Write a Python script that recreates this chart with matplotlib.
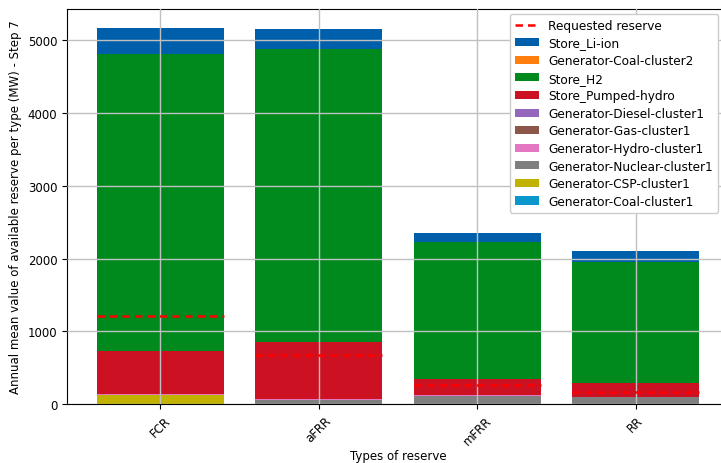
import numpy as np
import matplotlib
matplotlib.use('Agg')
from matplotlib import pyplot as plt
from matplotlib.lines import Line2D

# ----- DATA (MW) ----- #
reserves = ['FCR', 'aFRR', 'mFRR', 'RR']
requested = [1205, 677, 262, 165]

# stacked from bottom to top
techs = ['Generator-Coal-cluster1', 'Generator-CSP-cluster1', 'Generator-Nuclear-cluster1',
         'Generator-Hydro-cluster1', 'Generator-Gas-cluster1', 'Generator-Diesel-cluster1',
         'Store_Pumped-hydro', 'Store_H2', 'Generator-Coal-cluster2', 'Store_Li-ion']
coal1 = [0, 0, 0, 0]
csp = [128, 0, 0, 0]
nuclear = [0, 52, 112, 96]
hydro = [6, 22, 6, 0]
gas = [0, 0, 0, 0]
diesel = [0, 0, 0, 0]
pumped_hydro = [598, 782, 225, 197]
h2 = [4085, 4030, 1886, 1662]
coal2 = [0, 0, 0, 0]
li_ion = [357, 269, 129, 146]

colors = ['#0a97cc', '#c2b200', '#7f7f7f', '#e377c2', '#8c564b', '#9467bd',
          '#cc1222', '#008a1e', '#ff7f0e', '#005fab']

stack = [coal1, csp, nuclear, hydro, gas, diesel, pumped_hydro, h2, coal2, li_ion]

# ----- PLOT ----- #
fig = plt.figure(figsize=(7.21, 4.64), dpi=100)
ax = fig.add_axes([67/721, 59/464, 662/721, 395/464])

x = np.arange(len(reserves))
width = 0.8
bottom = np.zeros(len(reserves))
handles = []
for name, vals, col in zip(techs, stack, colors):
    b = ax.bar(x, vals, width, bottom=bottom, color=col, label=name, linewidth=0)
    handles.append(b)
    bottom += np.array(vals)

for i, r in enumerate(requested):
    ax.hlines(r, i - width/2, i + width/2, colors='#ff0000', linestyles=(0, (3, 2)),
              linewidth=1.8, zorder=3)

req_handle = Line2D([], [], color='#ff0000', linestyle=(0, (3, 2)), linewidth=1.8,
                    label='Requested reserve')

ax.set_xticks(x)
ax.set_xticklabels(reserves, rotation=45, fontsize=8.5)
ax.tick_params(axis='y', labelsize=8.5)
ax.set_xlabel('Types of reserve', fontsize=8.5, labelpad=1)
ax.set_ylabel('Annual mean value of available reserve per type (MW) - Step 7', fontsize=8.5)
ax.grid(True, color='#c0c0c0', linewidth=1.0)
ax.set_axisbelow(False)
ax.spines['right'].set_visible(False)

leg = ax.legend([req_handle] + handles[::-1], ['Requested reserve'] + techs[::-1],
                loc='upper right', bbox_to_anchor=(718/721, 449/464),
                bbox_transform=fig.transFigure, borderaxespad=0, fontsize=8.7,
                framealpha=1.0, labelspacing=0.38, handleheight=0.65)
leg.set_zorder(5)

plt.savefig('out.png', dpi=100)
